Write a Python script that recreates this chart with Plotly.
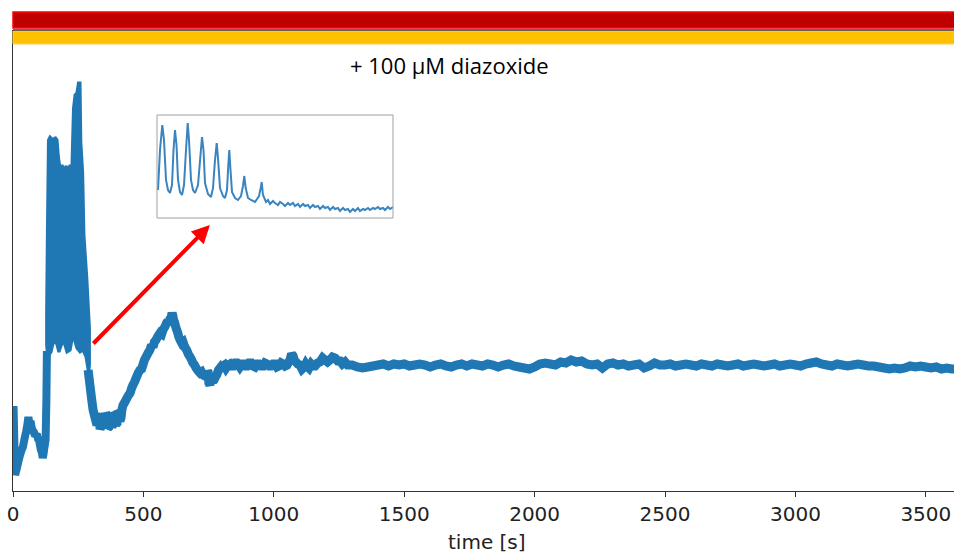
import plotly.graph_objects as go

# ---------------- data ----------------
# early part, before the oscillations (time [s], signal [a.u.])
t_pre = [0, 2, 8, 15, 21, 27, 33, 38, 44, 50, 55, 59, 63, 67, 72, 76, 80, 85, 91, 96, 100, 104,
         107, 111, 114, 117, 119, 122, 125, 128, 130]
y_pre = [70, 85, 16, 23, 30, 36, 41, 44, 52, 59, 66, 74, 67, 70, 63, 60, 59, 55, 57, 52, 51, 45,
         41, 38, 33, 37, 41, 46, 51, 91, 140]

# oscillation phase drawn as an envelope (upper / lower)
t_osc_up = [129, 132, 136, 142, 150, 155, 161, 169, 174, 180, 188, 196, 203, 211, 219, 226,
            228, 232, 238, 245, 251, 257, 260, 267, 272, 283, 289, 293]
y_osc_up = [179, 261, 351, 354, 352, 346, 354, 351, 334, 323, 326, 319, 325, 321, 326, 323,
            344, 383, 396, 398, 408, 408, 349, 319, 256, 213, 183, 163]
t_osc_lo = [293, 290, 280, 268, 257, 245, 234, 226, 219, 207, 199, 192, 184, 176, 169, 161, 153,
            146, 138, 132, 129]
y_osc_lo = [126, 118, 134, 141, 139, 143, 153, 151, 141, 139, 146, 151, 145, 139, 146, 151, 147,
            139, 136, 136, 146]

# decay after the oscillations, second hump and settling
t_decay = [288, 295, 302, 307, 314, 318, 322, 326, 330, 334, 337, 341, 345, 349, 353, 356, 360,
           364, 368, 372, 376, 380, 383, 387, 391, 395, 399, 402, 406, 410, 414, 418, 422, 427,
           433, 441, 449, 455, 460, 466, 472, 480, 487, 493, 498, 504, 510, 518, 525, 531, 537,
           542, 548, 556, 564, 570, 575, 582, 589, 594, 598, 602, 606, 610, 613, 616, 619, 624,
           628, 632, 636, 641, 647, 652, 656, 661, 666, 672, 679, 685, 690, 696, 702, 710, 717,
           723, 729, 736, 743, 746, 748, 751, 755, 759, 763, 767, 771, 776, 781, 788, 794, 800,
           805, 811, 817, 825, 832, 838, 844, 852, 859, 865, 870, 878, 886, 892, 897, 905, 913,
           920, 928, 936, 943, 951, 959, 966, 974, 982, 989, 997, 1005, 1012, 1020, 1028, 1035,
           1043, 1051, 1057, 1062, 1068, 1074, 1080, 1085, 1092, 1100, 1108, 1116, 1122, 1127,
           1135, 1143, 1150, 1158, 1168, 1177, 1187, 1196, 1206, 1215, 1225, 1235, 1245, 1254,
           1263, 1273, 1283]
y_decay = [121, 106, 91, 81, 74, 70, 66, 75, 73, 62, 64, 74, 77, 66, 67, 78, 76,
           63, 64, 76, 75, 65, 66, 78, 77, 67, 68, 80, 79, 70, 73, 82, 86, 88,
           91, 95, 98, 103, 106, 109, 113, 118, 121, 122, 126, 131, 134, 138, 141, 146, 144,
           149, 151, 155, 158, 157, 161, 164, 168, 170, 166, 172, 173, 178, 175, 171, 169, 164,
           161, 158, 154, 151, 148, 149, 146, 143, 141, 137, 134, 131, 128, 126, 123, 120, 118,
           119, 116, 115, 114, 120, 119, 108, 106, 112, 115, 110, 111, 114, 116, 121, 123, 120,
           125, 126, 123, 126, 127, 125, 125, 128, 128, 126, 124, 127, 127, 125, 125, 128, 128,
           125, 124, 127, 127, 125, 125, 128, 127, 125, 125, 127, 127, 124, 125, 128, 127,
           125, 126, 129, 131, 137, 135, 130, 129, 127, 126, 122, 124, 127, 125,
           123, 127, 125, 125, 128, 129, 133, 131, 129, 131, 134, 133, 130, 130,
           127, 129, 126]

# long plateau
t_plateau = [1300, 1320, 1340, 1360, 1380, 1400, 1420, 1440, 1460, 1480,
             1500, 1520, 1540, 1560, 1580, 1600, 1620, 1640, 1660, 1680,
             1700, 1720, 1740, 1760, 1780, 1800, 1820, 1840, 1860, 1880,
             1900, 1920, 1940, 1960, 1980, 2000, 2020, 2040, 2060, 2080,
             2100, 2120, 2140, 2160, 2180, 2200, 2220, 2240, 2260, 2280,
             2300, 2320, 2340, 2360, 2380, 2400, 2420, 2440, 2460, 2480,
             2500, 2520, 2540, 2560, 2580, 2600, 2620, 2640, 2660, 2680,
             2700, 2720, 2740, 2760, 2780, 2800, 2820, 2840, 2860, 2880,
             2900, 2920, 2940, 2960, 2980, 3000, 3020, 3040, 3060, 3080,
             3100, 3120, 3140, 3160, 3180, 3200, 3220, 3240, 3260, 3280,
             3300, 3320, 3340, 3360, 3380, 3400, 3420, 3440, 3460, 3480,
             3500, 3520, 3540, 3560, 3580, 3600, 3608]
y_plateau = [126, 124, 123, 124, 125, 126, 127, 125, 127, 126,
             127, 125, 126, 127, 126, 124, 126, 127, 125, 124,
             126, 127, 125, 127, 126, 125, 127, 126, 124, 126,
             127, 125, 124, 123, 122, 124, 127, 128, 127, 126,
             129, 128, 131, 129, 130, 127, 126, 127, 123, 127,
             128, 126, 127, 125, 126, 127, 123, 125, 128, 126,
             126, 127, 125, 126, 127, 126, 125, 127, 126, 125,
             127, 126, 125, 126, 127, 125, 126, 127, 126, 125,
             126, 127, 125, 126, 127, 126, 125, 127, 128, 129,
             127, 126, 125, 127, 126, 125, 126, 127, 126, 125,
             125, 124, 123, 122, 123, 122, 123, 125, 124, 125,
             124, 123, 124, 122, 123, 122, 122]

# inset: zoom on the oscillations (arbitrary units)
t_inset = [1, 3, 5.3, 7, 9, 11, 13, 15, 16.5, 18, 19.5, 21, 23, 25, 27, 29, 30.7, 32, 34, 36,
           38, 41, 43.5, 45, 46.5, 48, 51, 54, 56, 58, 59.7, 61, 63, 66, 68, 70, 71.3, 72.3,
           73.5, 75, 78, 81, 84, 86, 87.3, 88.7, 91, 94, 98, 102, 103.7, 104.7, 106, 109, 111,
           113, 116, 118, 121, 123, 126, 128, 131, 133, 136, 138, 141, 143, 146, 148, 151, 153,
           156, 158, 161, 163, 166, 168, 171, 173, 176, 178, 181, 183, 186, 188, 191, 193, 196,
           198, 201, 203, 206, 208, 211, 213, 216, 218, 221, 223, 226, 228, 231, 233, 236]
y_inset = [28, 68, 93, 78, 38, 28, 25, 33, 68, 88, 73, 38, 26, 23, 33, 68, 95, 78, 38, 28,
           25, 33, 63, 81, 68, 35, 24, 21, 30, 58, 75, 60, 30, 22, 20, 28, 53, 68,
           48, 26, 20, 18, 22, 32, 42, 30, 20, 18, 16, 22, 30, 36, 23, 16, 18,
           14, 17, 15, 13, 16, 14, 12, 15, 13, 15, 12, 14, 11, 14, 12, 13, 10,
           13, 11, 12, 9, 12, 10, 11, 8, 11, 9, 10, 7, 10, 8, 9, 6, 9,
           7, 10, 7, 9, 8, 10, 8, 10, 9, 11, 9, 10, 8, 11, 9, 11]

x_ticks = [0, 500, 1000, 1500, 2000, 2500, 3000, 3500]
x_max = 3608
y_max = 461

label_text = "+ 100 \u03bcM diazoxide"
x_title = "time [s]"

# ---------------- figure ----------------
BLUE = "#1f77b4"
AX = "#333333"

fig = go.Figure()

# oscillation envelope
fig.add_trace(go.Scatter(
    x=t_osc_up + t_osc_lo + t_osc_up[:1], y=y_osc_up + y_osc_lo + y_osc_up[:1],
    mode="lines", fill="toself", fillcolor=BLUE,
    line=dict(color=BLUE, width=3, simplify=False), hoverinfo="skip", showlegend=False))

fig.add_trace(go.Scatter(x=t_pre, y=y_pre, mode="lines",
                         line=dict(color=BLUE, width=8, simplify=False), showlegend=False))
fig.add_trace(go.Scatter(x=t_decay + t_plateau, y=y_decay + y_plateau, mode="lines",
                         line=dict(color=BLUE, width=9, simplify=False), showlegend=False))

# inset trace
fig.add_trace(go.Scatter(x=t_inset, y=y_inset, mode="lines", xaxis="x2", yaxis="y2",
                         line=dict(color="#3a84c0", width=2, simplify=False),
                         showlegend=False))

PA_L, PA_T, PA_W, PA_H = 13, 30, 941, 461


def px_x(px):
    return (px - PA_L) / PA_W


def px_y(py):
    return (PA_T + PA_H - py) / PA_H


shapes = [
    # red bar
    dict(type="rect", xref="paper", yref="paper", x0=0, x1=1.01,
         y0=px_y(28), y1=px_y(12), fillcolor="#C00000",
         line=dict(color="#FF0000", width=1.5), layer="above"),
    # yellow bar
    dict(type="rect", xref="paper", yref="paper", x0=0, x1=1.01,
         y0=px_y(44), y1=px_y(31), fillcolor="#FFC000",
         line=dict(color="#FFD24D", width=1), layer="above"),
    # top spine
    dict(type="line", xref="paper", yref="paper", x0=0, x1=1, y0=1, y1=1,
         line=dict(color=AX, width=1.3), layer="above"),
    # inset frame
    dict(type="rect", xref="paper", yref="paper", x0=px_x(157), x1=px_x(393),
         y0=px_y(218), y1=px_y(115), line=dict(color="#a0a0a0", width=1),
         fillcolor="rgba(0,0,0,0)", layer="above"),
]

annotations = [
    dict(text=label_text, xref="paper", yref="paper", x=px_x(449.5), y=px_y(65),
         showarrow=False, xanchor="center", yanchor="middle",
         font=dict(family="Open Sans", size=22, color="#000000")),
    dict(text=x_title, xref="paper", yref="paper", x=px_x(487), y=px_y(542),
         showarrow=False, xanchor="center", yanchor="middle",
         font=dict(family="DejaVu Sans", size=20, color="#222222")),
    dict(text="", xref="x", yref="y", x=755, y=266, ax=-118, ay=120,
         showarrow=True, arrowhead=2, arrowsize=0.9, arrowwidth=4, arrowcolor="#FF0000",
         standoff=0, startstandoff=0),
]

fig.update_layout(
    width=954, height=554,
    margin=dict(l=PA_L, r=0, t=PA_T, b=554 - PA_T - PA_H, pad=0),
    paper_bgcolor="white", plot_bgcolor="white",
    showlegend=False,
    xaxis=dict(range=[0, x_max], tickvals=x_ticks, ticktext=[str(v) for v in x_ticks],
               ticks="outside", ticklen=5, tickwidth=1.3, tickcolor=AX,
               showline=True, linecolor=AX, linewidth=1.3,
               showgrid=False, zeroline=False, automargin=False,
               tickfont=dict(family="DejaVu Sans", size=20, color="#222222")),
    yaxis=dict(range=[0, y_max], showticklabels=False, ticks="",
               showline=True, linecolor=AX, linewidth=1.3,
               showgrid=False, zeroline=False, automargin=False),
    xaxis2=dict(domain=[px_x(157), px_x(393)], range=[0, 236], anchor="y2",
                visible=False, showgrid=False, zeroline=False),
    yaxis2=dict(domain=[px_y(218), px_y(115)], range=[0, 103], anchor="x2",
                visible=False, showgrid=False, zeroline=False),
    shapes=shapes,
    annotations=annotations,
)

fig.write_html("out.html")
